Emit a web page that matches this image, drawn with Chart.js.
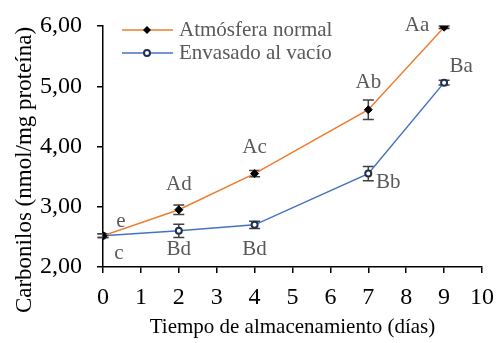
<!DOCTYPE html>
<html>
<head>
<meta charset="utf-8">
<script src="https://cdn.jsdelivr.net/npm/chart.js@4"></script>
<style>
  html, body { margin: 0; padding: 0; background: #fff; }
  #wrap { width: 498px; height: 343px; }
</style>
</head>
<body>
<div id="wrap"><canvas id="c"></canvas></div>
<script>
// data
const days = [0, 2, 4, 7, 9];
const normal = [2.52, 2.95, 3.55, 4.61, 5.98];
const normalErr = [0.03, 0.08, 0.05, 0.16, 0.02];
const normalLetters = ["e", "Ad", "Ac", "Ab", "Aa"];
const vacio = [2.52, 2.60, 2.70, 3.55, 5.06];
const vacioErr = [0.03, 0.11, 0.06, 0.12, 0.04];
const vacioLetters = ["c", "Bd", "Bd", "Bb", "Ba"];
const seriesNames = ["Atmósfera normal", "Envasado al vacío"];
const yTitle = "Carbonilos (nmol/mg proteína)";

const FONT = "'Liberation Serif', 'Times New Roman', serif";
const GREY = "#595959";

const pts = (ys) => days.map((d, i) => ({ x: d, y: ys[i] }));

// offsets of the letters from their point, in px
const normalOff = [[18, -14], [0, -25], [0, -26], [0, -27], [-27, -2]];
const vacioOff = [[16, 18], [0, 19], [0, 25], [20, 9], [17, -16]];

const extras = {
  id: "extras",
  beforeDatasetsDraw(chart) {
    const { ctx, scales: { x, y } } = chart;
    ctx.save();
    ctx.strokeStyle = "#404040";
    ctx.lineWidth = 1.5;
    [[normal, normalErr], [vacio, vacioErr]].forEach(([vals, errs]) => {
      vals.forEach((v, i) => {
        const px = x.getPixelForValue(days[i]);
        const top = y.getPixelForValue(v + errs[i]);
        const bot = y.getPixelForValue(v - errs[i]);
        ctx.beginPath();
        ctx.moveTo(px, top); ctx.lineTo(px, bot);
        ctx.moveTo(px - 5.5, top); ctx.lineTo(px + 5.5, top);
        ctx.moveTo(px - 5.5, bot); ctx.lineTo(px + 5.5, bot);
        ctx.stroke();
      });
    });

    // y axis title (sits a little below the axis centre in the original)
    ctx.fillStyle = "#000";
    ctx.font = "23px " + FONT;
    ctx.textAlign = "center";
    ctx.textBaseline = "middle";
    ctx.translate(25, 170);
    ctx.rotate(-Math.PI / 2);
    ctx.fillText(yTitle, 0, 0);
    ctx.restore();
  },
  afterDatasetsDraw(chart) {
    const { ctx, scales: { x, y } } = chart;
    ctx.save();
    ctx.fillStyle = GREY;
    ctx.font = "21px " + FONT;
    ctx.textAlign = "center";
    ctx.textBaseline = "middle";
    [[normal, normalLetters, normalOff], [vacio, vacioLetters, vacioOff]].forEach(([vals, lets, off]) => {
      vals.forEach((v, i) => {
        ctx.fillText(lets[i], x.getPixelForValue(days[i]) + off[i][0], y.getPixelForValue(v) + off[i][1]);
      });
    });

    // legend
    const rows = [
      { y: 30, color: "#ED7D31", marker: "diamond" },
      { y: 53, color: "#4472C4", marker: "circle" }
    ];
    rows.forEach((r, i) => {
      ctx.strokeStyle = r.color;
      ctx.lineWidth = 1.5;
      ctx.beginPath(); ctx.moveTo(122, r.y); ctx.lineTo(173, r.y); ctx.stroke();
      if (r.marker === "diamond") {
        ctx.fillStyle = "#000";
        ctx.beginPath();
        ctx.moveTo(147, r.y - 4); ctx.lineTo(151, r.y); ctx.lineTo(147, r.y + 4); ctx.lineTo(143, r.y);
        ctx.closePath(); ctx.fill();
      } else {
        ctx.fillStyle = "#fff"; ctx.strokeStyle = "#1F2F4F"; ctx.lineWidth = 2;
        ctx.beginPath(); ctx.arc(147, r.y, 3, 0, Math.PI * 2); ctx.fill(); ctx.stroke();
      }
      ctx.fillStyle = GREY;
      ctx.textAlign = "left";
      ctx.font = "21px " + FONT;
      ctx.fillText(seriesNames[i], 179, r.y);
    });
    ctx.restore();
  }
};

new Chart(document.getElementById("c"), {
  type: "scatter",
  data: {
    datasets: [
      {
        label: seriesNames[0],
        data: pts(normal),
        showLine: true,
        borderColor: "#ED7D31",
        borderWidth: 1.5,
        pointStyle: "rectRot",
        pointRadius: 4,
        pointBackgroundColor: "#000",
        pointBorderColor: "#000",
        pointBorderWidth: 1
      },
      {
        label: seriesNames[1],
        data: pts(vacio),
        showLine: true,
        borderColor: "#4472C4",
        borderWidth: 1.5,
        pointStyle: "circle",
        pointRadius: 3,
        pointBackgroundColor: "#fff",
        pointBorderColor: "#1F2F4F",
        pointBorderWidth: 2
      }
    ]
  },
  options: {
    responsive: true,
    maintainAspectRatio: false,
    animation: false,
    layout: { padding: { left: 0, right: 16, top: 26, bottom: 0 } },
    plugins: { legend: { display: false }, tooltip: { enabled: false } },
    scales: {
      x: {
        type: "linear",
        min: 0, max: 10,
        ticks: { stepSize: 1, color: "#000", font: { family: FONT, size: 24 }, padding: 10 },
        grid: { drawOnChartArea: false, drawTicks: true, tickLength: 6, color: "#000", lineWidth: 1.5 },
        border: { color: "#000", width: 1.5 },
        title: { display: true, text: "Tiempo de almacenamiento (días)", color: "#000", font: { family: FONT, size: 21 }, padding: { top: 4, bottom: 3 } },
        afterFit(s) { s.height = 76; s.paddingLeft = 0; s.paddingRight = 0; }
      },
      y: {
        min: 2, max: 6,
        ticks: {
          stepSize: 0.5,
          color: "#000",
          font: { family: FONT, size: 24 },
          padding: 15,
          callback: (v) => Number.isInteger(v) ? v.toFixed(2).replace(".", ",") : ""
        },
        grid: { drawOnChartArea: false, drawTicks: true, tickLength: 6, color: "#000", lineWidth: 1.5 },
        border: { color: "#000", width: 1.5 },
        afterFit(s) { s.width = 103; s.paddingTop = 0; s.paddingBottom = 0; }
      }
    }
  },
  plugins: [extras]
});
</script>
</body>
</html>
